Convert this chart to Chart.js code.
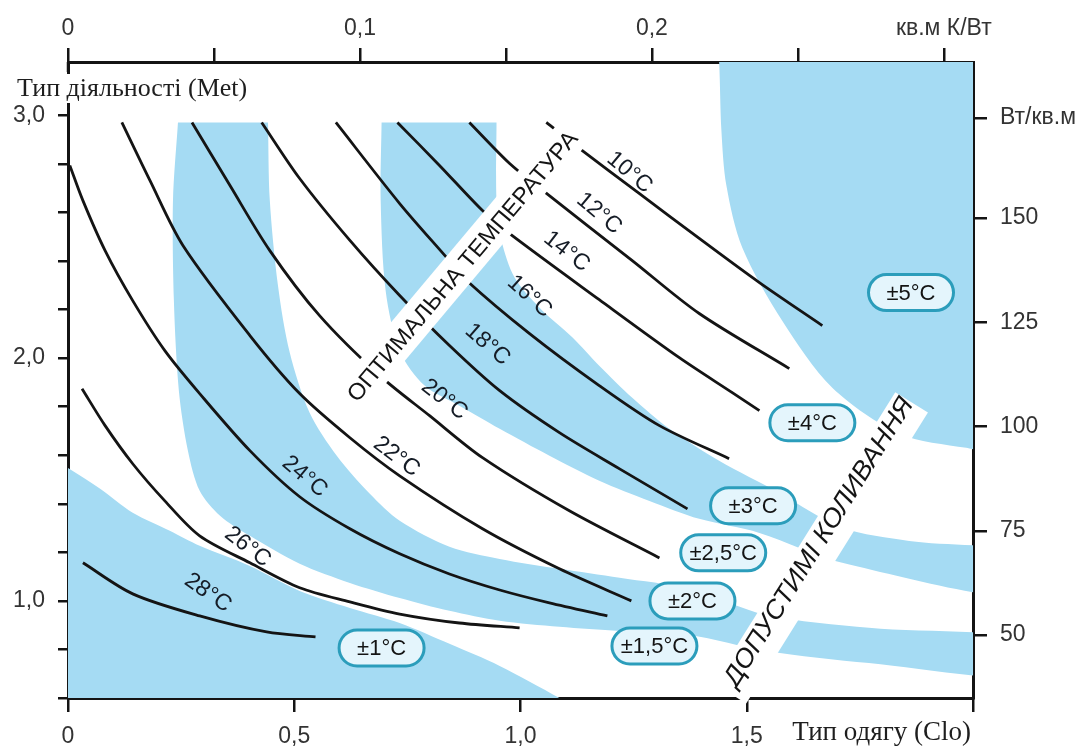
<!DOCTYPE html>
<html>
<head>
<meta charset="utf-8">
<style>
  html, body { margin: 0; padding: 0; background: #fff; }
  #wrap { width: 1088px; height: 747px; }
</style>
<script src="https://cdn.jsdelivr.net/npm/chart.js@4.4.1/dist/chart.umd.min.js"></script>
</head>
<body>
<div id="wrap"><canvas id="chart" width="1088" height="747"></canvas></div>
<script>
// ── Axes ──────────────────────────────────────────────────────────────────────
const M2KW_PER_CLO = 0.155;   // 1 clo = 0.155 кв.м К/Вт
const WM2_PER_MET  = 58.2;    // 1 met ≈ 58 Вт/кв.м

const cloTicks        = [0, 0.5, 1.0, 1.5, 2.0];
const cloTickLabels   = ['0', '0,5', '1,0', '1,5', ''];
const resistTicks     = [0, 0.05, 0.1, 0.15, 0.2, 0.25, 0.3];
const resistLabels    = ['0', '', '0,1', '', '0,2', '', 'кв.м К/Вт'];
const metTicks        = [0.6, 0.8, 1.0, 1.2, 1.4, 1.6, 1.8, 2.0, 2.2, 2.4, 2.6, 2.8, 3.0];
const metTickLabels   = ['', '', '1,0', '', '', '', '', '2,0', '', '', '', '', '3,0'];
const wattTicks       = [50, 75, 100, 125, 150];
const wattUnitMet     = 2.99;
const wattUnitLabel   = 'Вт/кв.м';

// ── Optimal temperature lines (clo, met) ─────────────────────────────────────
const isoTemps = ['10°C', '12°C', '14°C', '16°C', '18°C', '20°C', '22°C', '24°C', '26°C', '28°C'];
const iso10 = [[1.057,2.971],[1.130,2.864],[1.263,2.678],[1.395,2.493],[1.528,2.311],[1.667,2.134]];
const iso12 = [[0.887,2.971],[0.976,2.802],[1.049,2.691],[1.247,2.402],[1.395,2.184],[1.594,1.957]];
const iso14 = [[0.728,2.971],[0.821,2.794],[0.916,2.608],[0.976,2.513],[1.174,2.241],[1.351,2.002],[1.468,1.858],[1.528,1.784]];
const iso16 = [[0.592,2.971],[0.733,2.637],[0.837,2.414],[0.881,2.320],[1.020,2.101],[1.174,1.887],[1.307,1.722],[1.461,1.586]];
const iso18 = [[0.428,2.971],[0.512,2.740],[0.623,2.485],[0.733,2.258],[0.843,2.052],[0.954,1.866],[1.086,1.693],[1.219,1.544],[1.369,1.379]];
const iso20 = [[0.274,2.971],[0.358,2.711],[0.446,2.443],[0.556,2.175],[0.689,1.928],[0.799,1.763],[0.916,1.590],[1.108,1.371],[1.307,1.177]];
const iso22 = [[0.119,2.971],[0.181,2.732],[0.254,2.464],[0.402,2.093],[0.512,1.854],[0.623,1.672],[0.733,1.515],[0.916,1.297],[1.086,1.132],[1.245,1.000]];
const iso24 = [[0.004,2.794],[0.033,2.649],[0.082,2.443],[0.143,2.237],[0.214,2.031],[0.291,1.854],[0.402,1.619],[0.512,1.429],[0.623,1.297],[0.733,1.194],[0.843,1.111],[0.954,1.045],[1.064,0.992],[1.192,0.938]];
const iso26 = [[0.031,1.874],[0.082,1.722],[0.143,1.565],[0.214,1.412],[0.291,1.268],[0.402,1.157],[0.512,1.054],[0.623,0.996],[0.733,0.946],[0.865,0.909],[0.998,0.889]];
const iso28 = [[0.033,1.157],[0.143,1.029],[0.291,0.938],[0.439,0.872],[0.547,0.852]];
const isoLines = [iso10, iso12, iso14, iso16, iso18, iso20, iso22, iso24, iso26, iso28];

// ── Tolerance zones, blue ones (outline, clo/met) ────────────────────────────
const zone1 = [[-0.040,1.594],[0.071,1.462],[0.143,1.363],[0.225,1.289],[0.291,1.227],[0.402,1.144],[0.512,1.041],[0.623,0.971],[0.733,0.909],[0.843,0.823],[0.954,0.732],[1.086,0.600],[1.152,0.526],[-0.062,0.526]];
const zone2 = [[0.243,2.971],[0.232,2.649],[0.234,2.237],[0.245,1.866],[0.265,1.619],[0.291,1.454],[0.336,1.351],[0.402,1.268],[0.512,1.153],[0.623,1.074],[0.733,1.012],[0.843,0.959],[0.954,0.918],[1.086,0.893],[1.219,0.876],[1.373,0.860],[1.543,0.794],[1.770,0.744],[2.146,0.687],
               [2.146,0.835],[1.770,0.889],[1.543,0.942],[1.373,1.049],[1.219,1.095],[1.086,1.132],[0.954,1.173],[0.843,1.223],[0.733,1.330],[0.667,1.441],[0.594,1.598],[0.534,1.775],[0.490,2.023],[0.464,2.299],[0.446,2.649],[0.442,2.971]];
const zone3 = [[0.693,2.971],[0.691,2.649],[0.702,2.278],[0.733,2.031],[0.788,1.887],[0.865,1.804],[0.954,1.709],[1.064,1.598],[1.174,1.495],[1.285,1.412],[1.395,1.338],[1.528,1.280],[1.711,1.157],[2.146,1.008],
               [2.146,1.186],[1.859,1.247],[1.711,1.301],[1.572,1.445],[1.439,1.577],[1.329,1.709],[1.247,1.837],[1.174,1.969],[1.115,2.085],[1.042,2.208],[0.987,2.332],[0.958,2.485],[0.947,2.649],[0.947,2.971]];
const zone5 = [[1.435,3.268],[1.439,3.219],[1.444,2.938],[1.455,2.711],[1.490,2.456],[1.578,2.155],[1.689,1.878],[1.837,1.689],[1.985,1.631],[2.057,1.623],[2.057,3.268]];
const blueZones = [zone1, zone2, zone3, zone5];

const rangeLabels = ['±1°C', '±1,5°C', '±2°C', '±2,5°C', '±3°C', '±4°C', '±5°C'];

// ── Annotation anchors (clo, met) ────────────────────────────────────────────
const isoLabelAt    = [[1.241,2.765],[1.174,2.596],[1.102,2.439],[1.020,2.254],[0.927,2.056],[0.832,1.829],[0.726,1.594],[0.523,1.512],[0.397,1.222],[0.309,1.033]];
const isoLabelAngle = [40, 40, 38, 42, 41, 38, 37, 40, 38, 35];
const rangeLabelAt  = [[0.693,0.806],[1.296,0.814],[1.380,1.000],[1.448,1.198],[1.514,1.392],[1.645,1.734],[1.863,2.270]];
const optimalAt     = [0.870, 2.381];
const toleranceAt   = [1.656, 1.247];

// ── Style ────────────────────────────────────────────────────────────────────
const SANS  = "'Liberation Sans', Arial, sans-serif";
const SERIF = "'Liberation Serif', 'Times New Roman', serif";
const BLUE  = '#a5dbf3';
const INK   = '#141414';
const TICK_FONT = { family: SANS, size: 23 };
const MET_MAX = 3.22;

const toXY = arr => arr.map(([x, y]) => ({ x, y }));

const datasets = [
    ...isoLines.map((pts, i) => ({
        label: isoTemps[i],
        data: toXY(pts),
        showLine: true,
        borderColor: INK,
        borderWidth: 2.8,
        pointRadius: 0,
        tension: 0.3,
        fill: false,
        order: 1
    })),
    ...blueZones.map((pts, i) => ({
        label: 'zone' + i,
        data: toXY(pts),
        showLine: true,
        borderWidth: 0,
        borderColor: 'rgba(0,0,0,0)',
        backgroundColor: BLUE,
        pointRadius: 0,
        tension: 0.3,
        fill: 'shape',
        order: 3
    }))
];

function axisGrid(len) {
    return { drawOnChartArea: false, drawTicks: true, tickLength: len, color: INK, lineWidth: 2.5 };
}
const axisBorder = { color: INK, width: 3 };

function roundBox(ctx, x, y, w, h, r) {
    ctx.beginPath();
    ctx.moveTo(x + r, y);
    ctx.lineTo(x + w - r, y);
    ctx.arc(x + w - r, y + r, r, -Math.PI / 2, Math.PI / 2);
    ctx.lineTo(x + r, y + h);
    ctx.arc(x + r, y + r, r, Math.PI / 2, Math.PI * 1.5);
    ctx.closePath();
}

function banner(ctx, text, cx, cy, deg, font, size, len, padUp, padDown, padEnd) {
    ctx.save();
    ctx.translate(cx, cy);
    ctx.rotate(deg * Math.PI / 180);
    ctx.font = font;
    const w = ctx.measureText(text).width;
    const h = size * 0.75;
    ctx.fillStyle = '#fff';
    ctx.fillRect(-len / 2 - 8, -h / 2 - padUp, len + 8 + padEnd, h + padUp + padDown);
    ctx.scale(len / w, 1);
    ctx.fillStyle = INK;
    ctx.textAlign = 'center';
    ctx.textBaseline = 'middle';
    ctx.fillText(text, 0, 2);
    ctx.restore();
}

const overlay = {
    id: 'overlay',
    afterDatasetsDraw(chart) {
        const { ctx, scales: { x, y } } = chart;
        const P = p => [x.getPixelForValue(p[0]), y.getPixelForValue(p[1])];

        // slanted headings with white strips
        const [ox, oy] = P(optimalAt);
        banner(ctx, 'ОПТИМАЛЬНА ТЕМПЕРАТУРА', ox, oy, -50, '23px ' + SANS, 23, 345, 9, 9, 8);
        const [tx, ty] = P(toleranceAt);
        banner(ctx, 'ДОПУСТИМІ КОЛИВАННЯ', tx, ty, -58, 'italic 26px ' + SANS, 26, 335, 3, 16, 0);

        // temperature labels along the lines
        ctx.save();
        ctx.font = '23px ' + SANS;
        ctx.fillStyle = '#151c26';
        ctx.textAlign = 'center';
        ctx.textBaseline = 'middle';
        isoLabelAt.forEach((p, i) => {
            const [lx, ly] = P(p);
            ctx.save();
            ctx.translate(lx, ly);
            ctx.rotate(isoLabelAngle[i] * Math.PI / 180);
            ctx.fillText(isoTemps[i], 0, 0);
            ctx.restore();
        });
        ctx.restore();

        // tolerance pills
        ctx.save();
        rangeLabelAt.forEach((p, i) => {
            const [bx, by] = P(p);
            roundBox(ctx, bx - 42.5, by - 18, 85, 36, 18);
            ctx.fillStyle = '#e4f5fc';
            ctx.fill();
            ctx.lineWidth = 3;
            ctx.strokeStyle = '#2b9dbb';
            ctx.stroke();
            ctx.fillStyle = INK;
            ctx.font = '22px ' + SANS;
            ctx.textAlign = 'center';
            ctx.textBaseline = 'middle';
            ctx.fillText(rangeLabels[i], bx, by + 1);
        });
        ctx.restore();
    },
    afterDraw(chart) {
        const { ctx, chartArea } = chart;
        ctx.save();
        // the zero tick of the upper axis runs a little past the corner
        ctx.strokeStyle = INK;
        ctx.lineWidth = 2.5;
        ctx.beginPath();
        ctx.moveTo(chartArea.left, chartArea.top);
        ctx.lineTo(chartArea.left, chartArea.top + 10);
        ctx.stroke();
        // activity title sits over the top of the Met axis
        ctx.fillStyle = '#fff';
        ctx.fillRect(8, 74, 252, 29);
        ctx.fillStyle = '#1e1e1e';
        ctx.font = '26px ' + SERIF;
        ctx.textAlign = 'left';
        ctx.textBaseline = 'alphabetic';
        ctx.fillText('Тип діяльності (Met)', 17, 96);
        // clothing title at the end of the Clo axis
        ctx.font = '27px ' + SERIF;
        ctx.textAlign = 'right';
        ctx.fillText('Тип одягу (Clo)', 971, 740);
        ctx.restore();
    }
};

new Chart(document.getElementById('chart'), {
    type: 'scatter',
    data: { datasets },
    plugins: [overlay],
    options: {
        responsive: false,
        animation: false,
        events: [],
        devicePixelRatio: 1,
        layout: { padding: 0 },
        elements: { line: { capBezierPoints: false } },
        plugins: { legend: { display: false }, tooltip: { enabled: false } },
        scales: {
            x: {
                type: 'linear', position: 'bottom', min: 0, max: 2,
                afterBuildTicks: s => { s.ticks = cloTicks.map(v => ({ value: v })); },
                ticks: { callback: (v, i) => cloTickLabels[i], font: TICK_FONT, color: '#333', padding: 11, maxRotation: 0, autoSkip: false },
                grid: axisGrid(14), border: axisBorder,
                afterFit: s => { s.height = 49; }, z: 1
            },
            x2: {
                type: 'linear', position: 'top', min: 0, max: 2,
                afterBuildTicks: s => { s.ticks = resistTicks.map(r => ({ value: r / M2KW_PER_CLO })); },
                ticks: { callback: (v, i) => resistLabels[i], font: TICK_FONT, color: '#333', padding: 6, maxRotation: 0, autoSkip: false },
                grid: axisGrid(14), border: axisBorder,
                afterFit: s => { s.height = 62; }, z: 1
            },
            y: {
                type: 'linear', position: 'left', min: 0.6, max: MET_MAX,
                afterBuildTicks: s => { s.ticks = metTicks.map(v => ({ value: v })); },
                ticks: { callback: (v, i) => metTickLabels[i], font: TICK_FONT, color: '#333', padding: 13, autoSkip: false },
                grid: axisGrid(10), border: axisBorder,
                afterFit: s => { s.width = 68; }, z: 1
            },
            y2: {
                type: 'linear', position: 'right', min: 0.6, max: MET_MAX,
                afterBuildTicks: s => {
                    s.ticks = wattTicks.map(w => ({ value: w / WM2_PER_MET })).concat([{ value: wattUnitMet }]);
                },
                ticks: {
                    callback: (v, i) => i < wattTicks.length ? String(wattTicks[i]) : wattUnitLabel,
                    font: TICK_FONT, color: '#333', padding: 13, autoSkip: false
                },
                grid: axisGrid(14), border: axisBorder,
                afterFit: s => { s.width = 115; }, z: 1
            }
        }
    }
});
</script>
</body>
</html>
